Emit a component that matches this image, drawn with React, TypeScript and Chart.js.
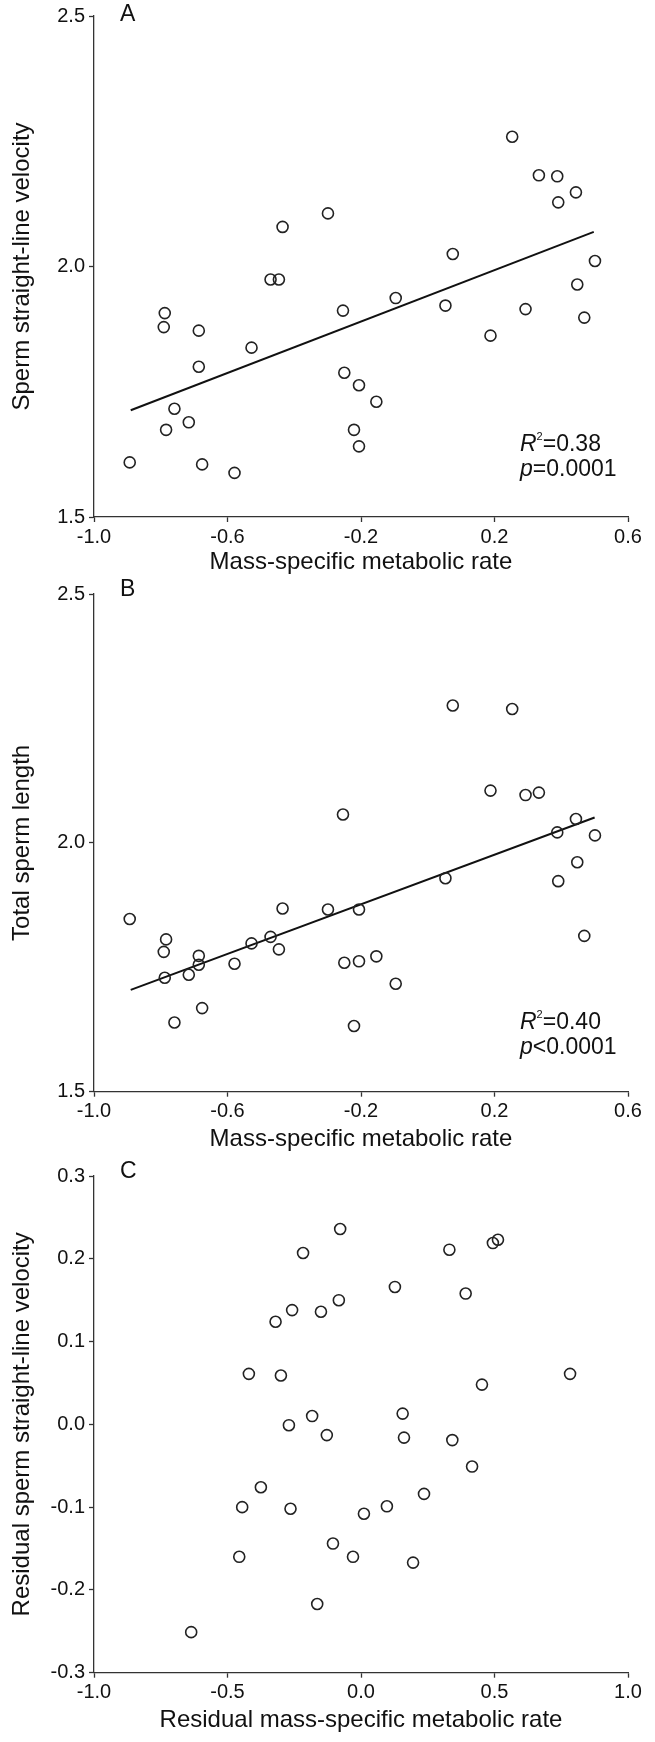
import React, { useEffect, useRef } from 'react';
import { Chart, registerables } from 'chart.js';

Chart.register(...registerables);

const FONT = "'Liberation Sans', Arial, Helvetica, sans-serif";

// ---- Panels A & B: species values (log scale) ----
const metabolicRate = [
  -0.893, -0.791, -0.788, -0.784, -0.759, -0.716, -0.686, -0.686, -0.676, -0.579,
  -0.528, -0.471, -0.446, -0.435, -0.299, -0.254, -0.25, -0.221, -0.206, -0.206,
  -0.154, -0.096, 0.053, 0.075, 0.188, 0.253, 0.293, 0.333, 0.388, 0.391,
  0.444, 0.448, 0.469, 0.501,
];
const spermVelocity = [
  1.609, 1.879, 1.907, 1.674, 1.716, 1.689, 1.872, 1.8, 1.605, 1.588,
  1.838, 1.974, 1.974, 2.079, 2.106, 1.912, 1.788, 1.674, 1.763, 1.641,
  1.73, 1.937, 1.922, 2.025, 1.862, 2.259, 1.915, 2.182, 2.18, 2.128,
  2.148, 1.964, 1.898, 2.011,
];
const spermLength = [
  1.847, 1.781, 1.729, 1.806, 1.639, 1.735, 1.773, 1.755, 1.668, 1.757,
  1.798, 1.811, 1.786, 1.868, 1.866, 2.057, 1.759, 1.632, 1.866, 1.762,
  1.772, 1.717, 1.929, 2.276, 2.105, 2.269, 2.096, 2.101, 2.021, 1.923,
  2.048, 1.961, 1.813, 2.015,
];
const fitVelocityX = [-0.89, 0.4975];
const fitVelocityY = [1.713, 2.069];
const fitLengthX = [-0.89, 0.5];
const fitLengthY = [1.7045, 2.051];

// ---- Panel C: residuals ----
const residualRate = [
  -0.078, -0.217, 0.331, 0.494, 0.513, 0.127, 0.392, -0.083, -0.258, -0.15,
  -0.32, -0.42, -0.3, 0.783, 0.453, -0.183, 0.156, -0.27, -0.128, 0.161,
  0.342, 0.416, -0.375, 0.236, -0.445, -0.264, 0.097, 0.011, -0.105, -0.456,
  -0.03, 0.195, -0.164, -0.636,
];
const residualVelocity = [
  0.236, 0.207, 0.211, 0.219, 0.223, 0.166, 0.158, 0.15, 0.138, 0.136,
  0.124, 0.061, 0.059, 0.061, 0.048, 0.01, 0.013, -0.001, -0.013, -0.016,
  -0.019, -0.051, -0.076, -0.084, -0.1, -0.102, -0.099, -0.108, -0.144, -0.16,
  -0.16, -0.167, -0.217, -0.251,
];

// ---- Ticks ----
const rateTicks = [-1.0, -0.6, -0.2, 0.2, 0.6];
const velocityTicks = [1.5, 2.0, 2.5];
const lengthTicks = [1.5, 2.0, 2.5];
const residualRateTicks = [-1.0, -0.5, 0.0, 0.5, 1.0];
const residualVelocityTicks = [-0.3, -0.2, -0.1, 0.0, 0.1, 0.2, 0.3];

// ---- Stats text ----
const statsA = ['=0.38', '=0.0001'];
const statsB = ['=0.40', '<0.0001'];

function fmt(v: number): string {
  const r = Math.abs(v) < 1e-9 ? 0 : v;
  return r.toFixed(1);
}

const panelText = {
  id: 'panelText',
  afterDraw(chart: any, _args: any, opts: any) {
    const { ctx, chartArea } = chart;
    ctx.save();
    ctx.fillStyle = '#111';
    ctx.textBaseline = 'middle';
    ctx.textAlign = 'left';
    ctx.font = `23px ${FONT}`;
    ctx.fillText(opts.letter, chartArea.left + 26, chartArea.top + opts.letterDy);
    if (opts.stats) {
      const x0 = chartArea.left + 426;
      let y = chartArea.top + 429;
      ctx.font = `italic 23px ${FONT}`;
      ctx.fillText('R', x0, y);
      let x = x0 + ctx.measureText('R').width;
      ctx.font = `11px ${FONT}`;
      ctx.fillText('2', x, y - 8);
      x += ctx.measureText('2').width;
      ctx.font = `23px ${FONT}`;
      ctx.fillText(opts.stats[0], x, y);
      y += 25;
      ctx.font = `italic 23px ${FONT}`;
      ctx.fillText('p', x0, y);
      x = x0 + ctx.measureText('p').width;
      ctx.font = `23px ${FONT}`;
      ctx.fillText(opts.stats[1], x, y);
    }
    ctx.restore();
  },
};

type Panel = {
  top: number;
  height: number;
  padTop: number;
  axisH: number;
  titlePadBottom: number;
  xs: number[];
  ys: number[];
  fitX?: number[];
  fitY?: number[];
  xMin: number;
  xMax: number;
  yMin: number;
  yMax: number;
  xTicks: number[];
  yTicks: number[];
  xTitle: string;
  yTitle: string;
  letter: string;
  letterDy: number;
  stats?: string[];
};

const AXIS = '#333';

function buildConfig(p: Panel): any {
  const datasets: any[] = [
    {
      data: p.xs.map((x, i) => ({ x, y: p.ys[i] })),
      pointRadius: 5.5,
      pointBorderWidth: 1.6,
      pointBorderColor: '#222',
      pointBackgroundColor: 'rgba(0,0,0,0)',
      showLine: false,
      clip: false,
    },
  ];
  if (p.fitX && p.fitY) {
    datasets.push({
      data: p.fitX.map((x, i) => ({ x, y: p.fitY![i] })),
      showLine: true,
      borderColor: '#111',
      borderWidth: 2,
      pointRadius: 0,
      fill: false,
    });
  }
  return {
    type: 'scatter',
    data: { datasets },
    plugins: [panelText],
    options: {
      animation: false,
      responsive: false,
      devicePixelRatio: 1,
      layout: { padding: { top: p.padTop, left: 0, right: 27, bottom: 0 } },
      plugins: {
        legend: { display: false },
        tooltip: { enabled: false },
        panelText: { letter: p.letter, letterDy: p.letterDy, stats: p.stats },
      },
      scales: {
        x: {
          type: 'linear',
          min: p.xMin,
          max: p.xMax,
          afterBuildTicks: (s: any) => {
            s.ticks = p.xTicks.map((v) => ({ value: v }));
          },
          afterFit: (s: any) => {
            s.height = p.axisH;
          },
          ticks: {
            callback: (v: any) => fmt(Number(v)),
            color: '#111',
            font: { family: FONT, size: 20 },
            padding: 3,
            maxRotation: 0,
            autoSkip: false,
          },
          grid: {
            display: true,
            drawOnChartArea: false,
            drawTicks: true,
            tickLength: 5,
            tickWidth: 1.3,
            tickColor: AXIS,
            color: AXIS,
          },
          border: { display: true, color: AXIS, width: 1.3 },
          title: {
            display: true,
            text: p.xTitle,
            color: '#111',
            font: { family: FONT, size: 24, lineHeight: 1.2 },
            padding: { top: 0, bottom: p.titlePadBottom },
          },
        },
        y: {
          type: 'linear',
          min: p.yMin,
          max: p.yMax,
          afterBuildTicks: (s: any) => {
            s.ticks = p.yTicks.map((v) => ({ value: v }));
          },
          afterFit: (s: any) => {
            s.width = 94;
          },
          ticks: {
            callback: (v: any) => fmt(Number(v)),
            color: '#111',
            font: { family: FONT, size: 20 },
            padding: 4,
            autoSkip: false,
          },
          grid: {
            display: true,
            drawOnChartArea: false,
            drawTicks: true,
            tickLength: 5,
            tickWidth: 1.3,
            tickColor: AXIS,
            color: AXIS,
          },
          border: { display: true, color: AXIS, width: 1.3 },
          title: {
            display: true,
            text: p.yTitle,
            color: '#111',
            font: { family: FONT, size: 24, lineHeight: 1.2 },
            padding: { top: 8, bottom: 0 },
          },
        },
      },
    },
  };
}

const panels: Panel[] = [
  {
    top: 0,
    height: 578,
    padTop: 16,
    axisH: 61,
    titlePadBottom: 1,
    xs: metabolicRate,
    ys: spermVelocity,
    fitX: fitVelocityX,
    fitY: fitVelocityY,
    xMin: -1,
    xMax: 0.6,
    yMin: 1.5,
    yMax: 2.5,
    xTicks: rateTicks,
    yTicks: velocityTicks,
    xTitle: 'Mass-specific metabolic rate',
    yTitle: 'Sperm straight-line velocity',
    letter: 'A',
    letterDy: -1,
    stats: statsA,
  },
  {
    top: 578,
    height: 582,
    padTop: 13.7,
    axisH: 68.3,
    titlePadBottom: 6.6,
    xs: metabolicRate,
    ys: spermLength,
    fitX: fitLengthX,
    fitY: fitLengthY,
    xMin: -1,
    xMax: 0.6,
    yMin: 1.5,
    yMax: 2.5,
    xTicks: rateTicks,
    yTicks: lengthTicks,
    xTitle: 'Mass-specific metabolic rate',
    yTitle: 'Total sperm length',
    letter: 'B',
    letterDy: -4,
    stats: statsB,
  },
  {
    top: 1160,
    height: 582,
    padTop: 12.7,
    axisH: 69.3,
    titlePadBottom: 7.6,
    xs: residualRate,
    ys: residualVelocity,
    xMin: -1,
    xMax: 1,
    yMin: -0.3,
    yMax: 0.3,
    xTicks: residualRateTicks,
    yTicks: residualVelocityTicks,
    xTitle: 'Residual mass-specific metabolic rate',
    yTitle: 'Residual sperm straight-line velocity',
    letter: 'C',
    letterDy: -4,
  },
];

function PanelChart({ panel }: { panel: Panel }) {
  const ref = useRef<HTMLCanvasElement | null>(null);
  useEffect(() => {
    if (!ref.current) return;
    const chart = new Chart(ref.current, buildConfig(panel));
    return () => chart.destroy();
  }, [panel]);
  return (
    <canvas
      ref={ref}
      width={655}
      height={panel.height}
      style={{
        position: 'absolute',
        left: 0,
        top: panel.top,
        width: 655,
        height: panel.height,
        display: 'block',
      }}
    />
  );
}

export default function App() {
  return (
    <div
      style={{
        position: 'absolute',
        left: 0,
        top: 0,
        width: 655,
        height: 1742,
        background: '#fff',
        overflow: 'hidden',
      }}
    >
      {panels.map((p, i) => (
        <PanelChart key={i} panel={p} />
      ))}
    </div>
  );
}
